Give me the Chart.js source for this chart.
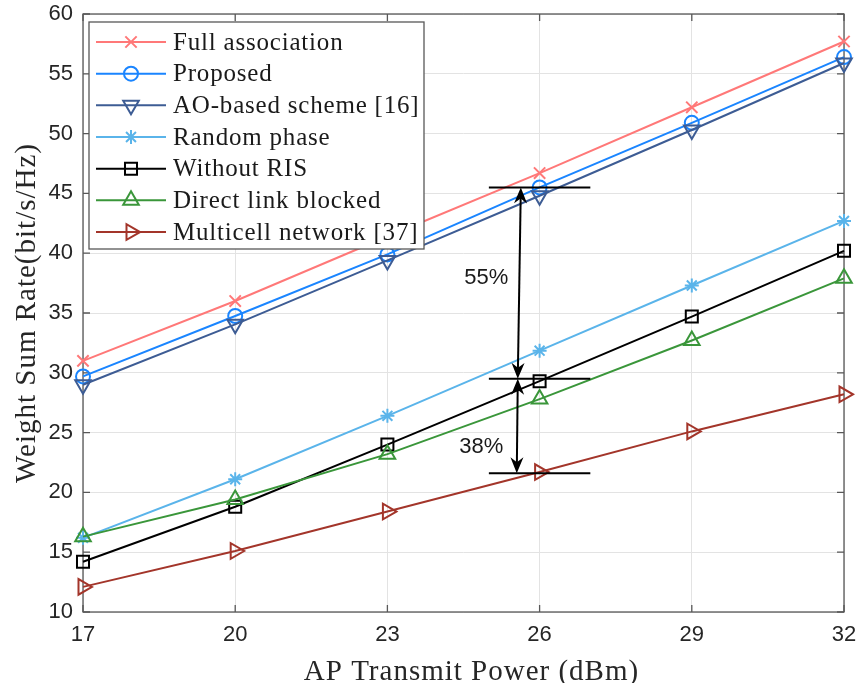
<!DOCTYPE html>
<html>
<head>
<meta charset="utf-8">
<script src="https://cdn.jsdelivr.net/npm/chart.js@4.4.0/dist/chart.umd.min.js"></script>
<style>
    html, body { margin: 0; padding: 0; background: #fff; }
    #wrap { width: 860px; height: 683px; }
</style>
</head>
<body>
<div id="wrap"><canvas id="rateChart"></canvas></div>
<script>
// AP transmit power (dBm) and the axis ticks
const powerDbm = [17, 20, 23, 26, 29, 32];
const xTicks = [17, 20, 23, 26, 29, 32];
const yTicks = [10, 15, 20, 25, 30, 35, 40, 45, 50, 55, 60];

// weight sum rate (bit/s/Hz) for each scheme
const fullAssociation = [31.0, 36.0, 41.4, 46.7, 52.2, 57.7];
const proposed = [29.7, 34.75, 39.9, 45.5, 50.9, 56.4];
const aoBased = [29.0, 34.05, 39.4, 44.8, 50.3, 55.9];
const randomPhase = [16.2, 21.1, 26.4, 31.85, 37.3, 42.7];
const withoutRis = [14.2, 18.8, 24.0, 29.3, 34.7, 40.2];
const directBlocked = [16.3, 19.4, 23.2, 27.8, 32.7, 37.9];
const multicell = [12.1, 15.1, 18.4, 21.7, 25.1, 28.2];

const seriesNames = [
    'Full association', 'Proposed', 'AO-based scheme [16]', 'Random phase',
    'Without RIS', 'Direct link blocked', 'Multicell network [37]'
];

// gain brackets drawn at P = 26 dBm
const bracketLevels = [45.5, 29.5, 21.6];
const bracketSpan = [25.0, 27.0];
const arrowXs = [25.63, 25.57, 25.55];
const gainLabels = ['55%', '38%'];
const gainLabelX = [24.95, 24.85];
const gainLabelY = [37.9, 23.8];

const allSeries = [fullAssociation, proposed, aoBased, randomPhase, withoutRis, directBlocked, multicell];

// look of each line (same order as seriesNames)
const styles = [
    { color: '#FF7878', pointStyle: 'crossRot', rotation: 0, radius: 8 },
    { color: '#1A85FF', pointStyle: 'circle', rotation: 0, radius: 7 },
    { color: '#3D5C94', pointStyle: 'triangle', rotation: 180, radius: 9 },
    { color: '#5AB4EA', pointStyle: 'star', rotation: 0, radius: 7 },
    { color: '#000000', pointStyle: 'rect', rotation: 0, radius: 8.5 },
    { color: '#3A963A', pointStyle: 'triangle', rotation: 0, radius: 9 },
    { color: '#A3352A', pointStyle: 'triangle', rotation: 90, radius: 9 }
];

const serif = '"Liberation Serif", "Times New Roman", serif';
const sans = '"Liberation Sans", Arial, sans-serif';

const datasets = allSeries.map(function (values, i) {
    const s = styles[i];
    return {
        label: seriesNames[i],
        data: values.map((v, k) => ({ x: powerDbm[k], y: v })),
        borderColor: s.color,
        backgroundColor: 'rgba(0,0,0,0)',
        borderWidth: 2,
        pointStyle: s.pointStyle,
        pointRotation: s.rotation,
        pointRadius: s.radius,
        pointHoverRadius: s.radius,
        pointBorderWidth: 2,
        pointBorderColor: s.color,
        pointBackgroundColor: 'rgba(0,0,0,0)',
        tension: 0,
        clip: false,
        order: allSeries.length - i
    };
});

function arrowHead(ctx, tipX, tipY, dirX, dirY) {
    const len = 16, half = 6.5, back = 5;
    const px = -dirY, py = dirX;
    const bx = tipX - dirX * len, by = tipY - dirY * len;
    ctx.beginPath();
    ctx.moveTo(tipX, tipY);
    ctx.lineTo(bx + px * half, by + py * half);
    ctx.lineTo(tipX - dirX * (len - back), tipY - dirY * (len - back));
    ctx.lineTo(bx - px * half, by - py * half);
    ctx.closePath();
    ctx.fill();
}

function doubleArrow(ctx, x1, y1, x2, y2) {
    const d = Math.hypot(x2 - x1, y2 - y1);
    const ux = (x2 - x1) / d, uy = (y2 - y1) / d;
    ctx.beginPath();
    ctx.moveTo(x1 + ux * 8, y1 + uy * 8);
    ctx.lineTo(x2 - ux * 8, y2 - uy * 8);
    ctx.stroke();
    arrowHead(ctx, x2, y2, ux, uy);
    arrowHead(ctx, x1, y1, -ux, -uy);
}

// keep the plot box where the reference has it (labels may overflow)
function noScalePadding(scale) {
    scale.paddingTop = 0;
    scale.paddingBottom = 0;
    scale.paddingLeft = 0;
    scale.paddingRight = 0;
}

const extrasPlugin = {
    id: 'extras',
    beforeDatasetsDraw(chart) {
        // axes box with inward ticks
        const { ctx, chartArea: a, scales } = chart;
        ctx.save();
        ctx.strokeStyle = '#585858';
        ctx.lineWidth = 1.3;
        ctx.strokeRect(a.left, a.top, a.right - a.left, a.bottom - a.top);
        ctx.beginPath();
        xTicks.forEach(function (t) {
            const x = scales.x.getPixelForValue(t);
            ctx.moveTo(x, a.bottom); ctx.lineTo(x, a.bottom - 7);
            ctx.moveTo(x, a.top); ctx.lineTo(x, a.top + 7);
        });
        yTicks.forEach(function (t) {
            const y = scales.y.getPixelForValue(t);
            ctx.moveTo(a.left, y); ctx.lineTo(a.left + 7, y);
            ctx.moveTo(a.right, y); ctx.lineTo(a.right - 7, y);
        });
        ctx.stroke();
        ctx.restore();
    },
    afterDatasetsDraw(chart) {
        const { ctx, scales } = chart;
        const xs = scales.x, ys = scales.y;
        ctx.save();
        ctx.strokeStyle = '#000';
        ctx.fillStyle = '#000';
        ctx.lineWidth = 2;
        ctx.beginPath();
        bracketLevels.forEach(function (lv) {
            const y = ys.getPixelForValue(lv);
            ctx.moveTo(xs.getPixelForValue(bracketSpan[0]), y);
            ctx.lineTo(xs.getPixelForValue(bracketSpan[1]), y);
        });
        ctx.stroke();
        for (let i = 0; i < bracketLevels.length - 1; i++) {
            doubleArrow(ctx,
                xs.getPixelForValue(arrowXs[i]), ys.getPixelForValue(bracketLevels[i]),
                xs.getPixelForValue(arrowXs[i + 1]), ys.getPixelForValue(bracketLevels[i + 1]));
        }
        ctx.font = '22px ' + sans;
        ctx.textAlign = 'center';
        ctx.textBaseline = 'middle';
        ctx.fillStyle = '#1a1a1a';
        gainLabels.forEach(function (txt, i) {
            ctx.fillText(txt, xs.getPixelForValue(gainLabelX[i]), ys.getPixelForValue(gainLabelY[i]));
        });
        ctx.restore();
    },
    afterDraw(chart) {
        const { ctx, chartArea: a } = chart;
        ctx.save();

        // legend box in the upper left corner
        const boxL = a.left + 6, boxT = a.top + 8, boxW = 335, boxH = 227;
        ctx.fillStyle = '#fff';
        ctx.fillRect(boxL, boxT, boxW, boxH);
        ctx.strokeStyle = '#585858';
        ctx.lineWidth = 1.3;
        ctx.strokeRect(boxL, boxT, boxW, boxH);
        ctx.font = '25px ' + serif;
        ctx.letterSpacing = '0.8px';
        ctx.textAlign = 'left';
        ctx.textBaseline = 'middle';
        seriesNames.forEach(function (name, i) {
            const s = styles[i];
            const y = boxT + 20 + i * 31.67;
            ctx.strokeStyle = s.color;
            ctx.lineWidth = 2;
            ctx.beginPath();
            ctx.moveTo(boxL + 7, y);
            ctx.lineTo(boxL + 77, y);
            ctx.stroke();
            ctx.fillStyle = 'rgba(0,0,0,0)';
            Chart.helpers.drawPoint(ctx, {
                pointStyle: s.pointStyle, rotation: s.rotation,
                radius: s.radius, borderWidth: 2
            }, boxL + 42, y);
            ctx.fillStyle = '#1a1a1a';
            ctx.fillText(name, boxL + 84, y + 1);
        });

        // axis titles
        ctx.fillStyle = '#262626';
        ctx.font = '29px ' + serif;
        ctx.letterSpacing = '1px';
        ctx.textAlign = 'center';
        ctx.textBaseline = 'alphabetic';
        ctx.fillText('AP Transmit Power (dBm)', (a.left + a.right) / 2 + 8, 680);
        ctx.translate(35, (a.top + a.bottom) / 2);
        ctx.rotate(-Math.PI / 2);
        ctx.fillText('Weight Sum Rate(bit/s/Hz)', 0, 0);
        ctx.restore();
    }
};

const ctx = document.getElementById('rateChart').getContext('2d');
new Chart(ctx, {
    type: 'line',
    data: { datasets: datasets },
    plugins: [extrasPlugin],
    options: {
        responsive: true,
        maintainAspectRatio: false,
        animation: false,
        events: [],
        layout: { padding: { top: 14, right: 16, left: 0, bottom: 0 } },
        plugins: { legend: { display: false }, tooltip: { enabled: false } },
        scales: {
            x: {
                type: 'linear',
                min: 17,
                max: 32,
                afterBuildTicks: function (scale) {
                    scale.ticks = xTicks.map(v => ({ value: v }));
                },
                afterFit: function (scale) { scale.height = 71; noScalePadding(scale); },
                grid: { color: '#e3e3e3', lineWidth: 1, drawTicks: false },
                border: { display: false },
                ticks: {
                    padding: 10,
                    color: '#262626',
                    font: { family: sans, size: 22 },
                    maxRotation: 0
                }
            },
            y: {
                type: 'linear',
                min: 10,
                max: 60,
                afterBuildTicks: function (scale) {
                    scale.ticks = yTicks.map(v => ({ value: v }));
                },
                afterFit: function (scale) { scale.width = 83; noScalePadding(scale); },
                grid: { color: '#e3e3e3', lineWidth: 1, drawTicks: false },
                border: { display: false },
                ticks: {
                    padding: 10,
                    color: '#262626',
                    font: { family: sans, size: 22 }
                }
            }
        }
    }
});
</script>
</body>
</html>
